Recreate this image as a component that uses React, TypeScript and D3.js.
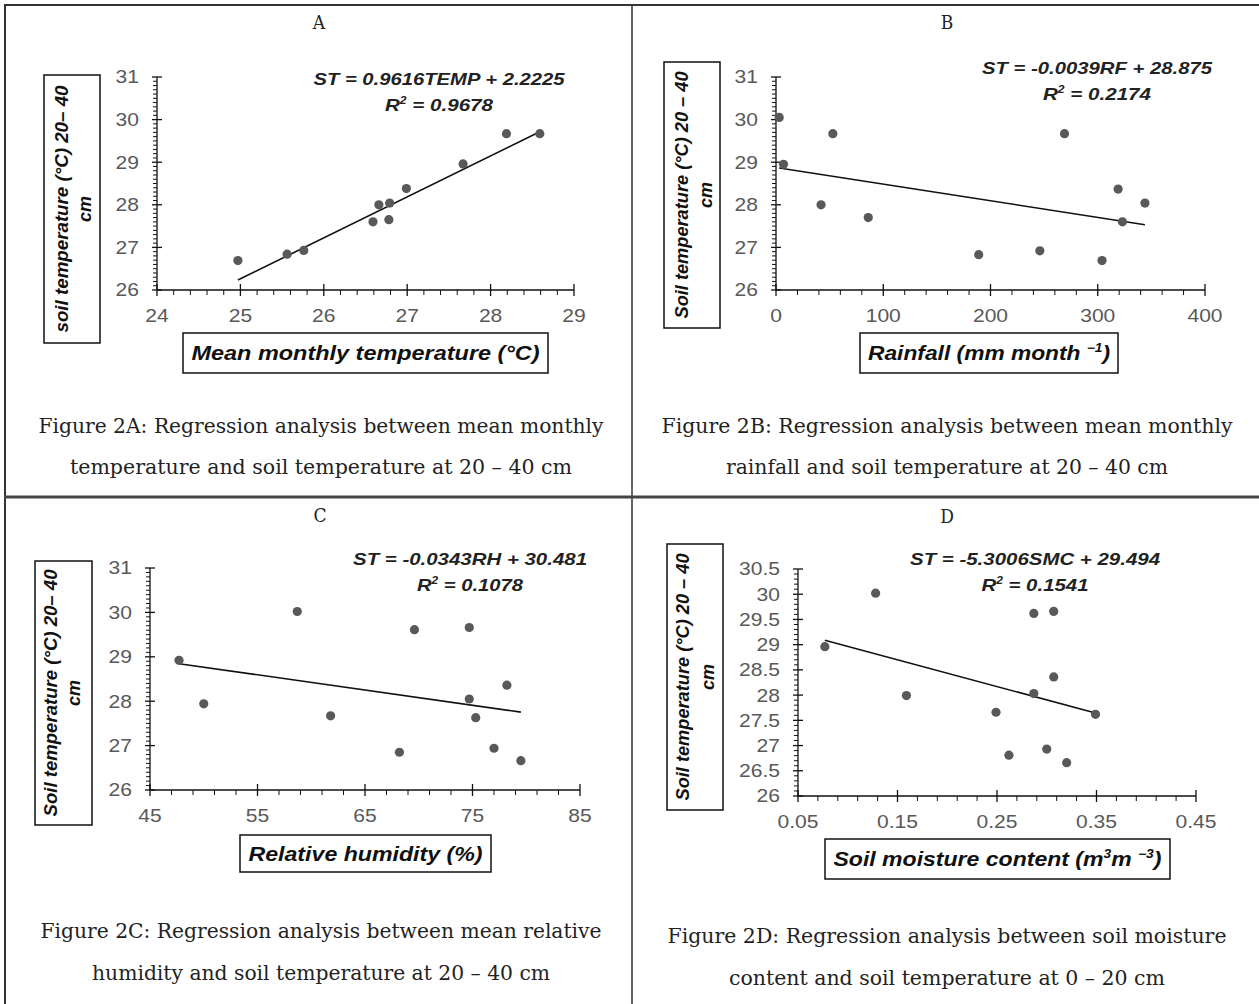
import React from 'react';
import * as d3 from 'd3';

// ---------- data ----------
const tempA = [24.97, 25.56, 25.76, 26.59, 26.66, 26.79, 26.78, 26.99, 27.67, 28.19, 28.59];
const stA = [26.69, 26.84, 26.93, 27.6, 28.0, 28.04, 27.65, 28.38, 28.96, 29.67, 29.67];

const rainB = [3, 7, 42, 53, 86, 189, 246, 269, 304, 319, 323, 344];
const stB = [30.05, 28.95, 28.0, 29.67, 27.7, 26.83, 26.92, 29.67, 26.69, 28.37, 27.6, 28.04];

const rhC = [47.7, 50.0, 58.7, 61.8, 68.2, 69.6, 74.7, 74.7, 75.3, 77.0, 78.2, 79.5];
const stC = [28.92, 27.94, 30.02, 27.67, 26.85, 29.61, 29.66, 28.05, 27.63, 26.94, 28.36, 26.66];

const smcD = [0.077, 0.128, 0.159, 0.249, 0.262, 0.287, 0.287, 0.3, 0.307, 0.307, 0.32, 0.349];
const stD = [28.96, 30.02, 27.99, 27.66, 26.81, 29.62, 28.03, 26.93, 29.66, 28.36, 26.66, 27.62];

const slopes = [0.9616, -0.0039, -0.0343, -5.3006];
const intercepts = [2.2225, 28.875, 30.481, 29.494];
const equations = [
  'ST = 0.9616TEMP + 2.2225',
  'ST = -0.0039RF + 28.875',
  'ST = -0.0343RH + 30.481',
  'ST = -5.3006SMC + 29.494',
];
const r2Values = ['0.9678', '0.2174', '0.1078', '0.1541'];
const panelLetters = ['A', 'B', 'C', 'D'];

const xTicksA = [24, 25, 26, 27, 28, 29];
const xTicksB = [0, 100, 200, 300, 400];
const xTicksC = [45, 55, 65, 75, 85];
const xTicksD = [0.05, 0.15, 0.25, 0.35, 0.45];
const xTickLabelsD = ['0.05', '0.15', '0.25', '0.35', '0.45'];
const yTicksABC = [26, 27, 28, 29, 30, 31];
const yTicksD = [26, 26.5, 27, 27.5, 28, 28.5, 29, 29.5, 30, 30.5];

const yLabelLines = [
  'soil temperature (°C) 20– 40',
  'Soil temperature (°C) 20 – 40',
  'Soil temperature (°C) 20– 40',
  'Soil temperature (°C) 20 – 40',
];

const captions = [
  ['Figure 2A: Regression analysis between mean monthly', 'temperature and soil temperature at 20 – 40 cm'],
  ['Figure 2B: Regression analysis between mean monthly', 'rainfall and soil temperature at 20 – 40 cm'],
  ['Figure 2C: Regression analysis between mean relative', 'humidity and soil temperature at 20 – 40 cm'],
  ['Figure 2D: Regression analysis between soil moisture', 'content and soil temperature at 0 – 20 cm'],
];

// ---------- layout ----------
const SANS = "'Liberation Sans', Arial, sans-serif";
const SERIF = "'DejaVu Serif Condensed', 'DejaVu Serif', serif";

type Panel = {
  xs: number[]; ys: number[];
  xDomain: [number, number]; xRange: [number, number];
  yDomain: [number, number]; yRange: [number, number];
  xTicks: number[]; xLabels: string[]; yTicks: number[]; yLabels: string[];
  xMinorStep: number; yMinorStep: number;
  letter: [number, number];
  eq: [number, number, number]; eqW: [number, number];
  yBox: [number, number, number, number]; yCols: [number, number];
  xBox: [number, number, number, number]; xTitleW: number;
  cap: [number, number, number]; capW: [number, number];
};

const panels: Panel[] = [
  {
    xs: tempA, ys: stA, xDomain: [24, 29], xRange: [157, 574], yDomain: [26, 31], yRange: [290, 77],
    xTicks: xTicksA, xLabels: xTicksA.map(String), yTicks: yTicksABC, yLabels: yTicksABC.map(String),
    xMinorStep: 0.2, yMinorStep: 0.1, letter: [319, 29], eq: [439, 85, 111], eqW: [251, 108],
    yBox: [44, 75, 56, 268], yCols: [62, 85], xBox: [183, 333, 365, 40], xTitleW: 348,
    cap: [321, 433, 474], capW: [565, 502],
  },
  {
    xs: rainB, ys: stB, xDomain: [0, 400], xRange: [776, 1205], yDomain: [26, 31], yRange: [290, 77],
    xTicks: xTicksB, xLabels: xTicksB.map(String), yTicks: yTicksABC, yLabels: yTicksABC.map(String),
    xMinorStep: 20, yMinorStep: 0.1, letter: [947, 29], eq: [1097, 74, 100], eqW: [230, 108],
    yBox: [664, 62, 56, 266], yCols: [682, 706], xBox: [860, 333, 258, 40], xTitleW: 242,
    cap: [947, 433, 474], capW: [571, 442],
  },
  {
    xs: rhC, ys: stC, xDomain: [45, 85], xRange: [150, 580], yDomain: [26, 31], yRange: [790, 568],
    xTicks: xTicksC, xLabels: xTicksC.map(String), yTicks: yTicksABC, yLabels: yTicksABC.map(String),
    xMinorStep: 2, yMinorStep: 0.1, letter: [320, 522], eq: [470, 565, 591], eqW: [234, 106],
    yBox: [35, 561, 57, 264], yCols: [51, 74], xBox: [240, 835, 251, 37], xTitleW: 234,
    cap: [321, 938, 980], capW: [561, 458],
  },
  {
    xs: smcD, ys: stD, xDomain: [0.05, 0.45], xRange: [798, 1196], yDomain: [26, 30.5], yRange: [796, 569],
    xTicks: xTicksD, xLabels: xTickLabelsD, yTicks: yTicksD, yLabels: yTicksD.map(String),
    xMinorStep: 0.02, yMinorStep: 0.1, letter: [947, 523], eq: [1035, 565, 591], eqW: [250, 107],
    yBox: [667, 544, 56, 266], yCols: [683, 708], xBox: [825, 839, 345, 40], xTitleW: 328,
    cap: [947, 943, 985], capW: [559, 436],
  },
];

function stepsBetween(d0: number, d1: number, step: number): number[] {
  const n = Math.round((d1 - d0) / step);
  return d3.range(0, n + 1).map((i) => d0 + i * step);
}

function XTitle({ i }: { i: number }) {
  if (i === 0) return <tspan>Mean monthly temperature (°C)</tspan>;
  if (i === 1)
    return (
      <>
        <tspan>Rainfall (mm month </tspan>
        <tspan dy={-8} fontSize={12}>−1</tspan>
        <tspan dy={8}>)</tspan>
      </>
    );
  if (i === 2) return <tspan>Relative humidity (%)</tspan>;
  return (
    <>
      <tspan>Soil moisture content (m</tspan>
      <tspan dy={-8} fontSize={12}>3</tspan>
      <tspan dy={8}>m </tspan>
      <tspan dy={-8} fontSize={12}>−3</tspan>
      <tspan dy={8}>)</tspan>
    </>
  );
}

const TICK_SX = 1.17;

function PanelView({ p, i }: { p: Panel; i: number }) {
  const x = d3.scaleLinear().domain(p.xDomain).range(p.xRange);
  const y = d3.scaleLinear().domain(p.yDomain).range(p.yRange);
  const x0 = p.xRange[0];
  const y0 = p.yRange[0];
  const isMajor = (v: number, majors: number[], step: number) => majors.some((m) => Math.abs(m - v) < step / 10);
  const xMinor = stepsBetween(p.xDomain[0], p.xDomain[1], p.xMinorStep).filter((v) => !isMajor(v, p.xTicks, p.xMinorStep));
  const yMinor = stepsBetween(p.yDomain[0], p.yDomain[1], p.yMinorStep).filter((v) => !isMajor(v, p.yTicks, p.yMinorStep));
  const [xmin, xmax] = d3.extent(p.xs) as [number, number];
  const trend = d3.line<number>().x((v) => x(v)).y((v) => y(slopes[i] * v + intercepts[i]))([xmin, xmax]) || '';
  const [bx, by, bw, bh] = p.yBox;
  const bcy = by + bh / 2;
  const [tx, ty, tw, th] = p.xBox;

  return (
    <g>
      {/* panel letter */}
      <text x={p.letter[0]} y={p.letter[1]} textAnchor="middle" fontFamily={SERIF} fontSize={19} fill="#222">
        {panelLetters[i]}
      </text>

      {/* y-axis title box */}
      <rect x={bx} y={by} width={bw} height={bh} fill="none" stroke="#111" strokeWidth={1.5} />
      <text
        transform={`translate(${p.yCols[0]},${bcy}) rotate(-90)`}
        textAnchor="middle" dy="0.35em" fontFamily={SANS} fontWeight={700} fontStyle="italic" fontSize={18} fill="#111"
        textLength={247} lengthAdjust="spacingAndGlyphs"
      >
        {yLabelLines[i]}
      </text>
      <text
        transform={`translate(${p.yCols[1]},${bcy}) rotate(-90)`}
        textAnchor="middle" dy="0.35em" fontFamily={SANS} fontWeight={700} fontStyle="italic" fontSize={18} fill="#111"
      >
        cm
      </text>

      {/* axes */}
      <line x1={x0} x2={x0} y1={p.yRange[0]} y2={p.yRange[1]} stroke="#111" strokeWidth={1.3} />
      <line x1={p.xRange[0]} x2={p.xRange[1]} y1={y0} y2={y0} stroke="#111" strokeWidth={1.3} />
      {p.yTicks.map((v) => (
        <line key={'ym' + v} x1={x0 - 5} x2={x0 + 5} y1={y(v)} y2={y(v)} stroke="#111" strokeWidth={1.3} />
      ))}
      {yMinor.map((v) => (
        <line key={'yn' + v} x1={x0 - 4} x2={x0} y1={y(v)} y2={y(v)} stroke="#111" strokeWidth={1} />
      ))}
      {p.xTicks.map((v) => (
        <line key={'xm' + v} x1={x(v)} x2={x(v)} y1={y0 - 6} y2={y0 + 6} stroke="#111" strokeWidth={1.3} />
      ))}
      {xMinor.map((v) => (
        <line key={'xn' + v} x1={x(v)} x2={x(v)} y1={y0} y2={y0 + 5} stroke="#111" strokeWidth={1} />
      ))}
      {p.yTicks.map((v, k) => (
        <text key={'yl' + v} transform={`translate(${x0 - 18},${y(v)}) scale(${TICK_SX},1)`} dy="0.36em" textAnchor="end"
          fontFamily={SANS} fontSize={18} fill="#595959">
          {p.yLabels[k]}
        </text>
      ))}
      {p.xTicks.map((v, k) => (
        <text key={'xl' + v} transform={`translate(${x(v)},${y0 + 32}) scale(${TICK_SX},1)`} textAnchor="middle"
          fontFamily={SANS} fontSize={18} fill="#595959">
          {p.xLabels[k]}
        </text>
      ))}

      {/* trend line and points */}
      <path d={trend} fill="none" stroke="#111" strokeWidth={1.6} />
      {p.xs.map((v, k) => (
        <circle key={'pt' + k} cx={x(v)} cy={y(p.ys[k])} r={4.6} fill="#595959" />
      ))}

      {/* equation */}
      <text x={p.eq[0]} y={p.eq[1]} textAnchor="middle" fontFamily={SANS} fontWeight={700} fontStyle="italic" fontSize={17} fill="#222"
        textLength={p.eqW[0]} lengthAdjust="spacingAndGlyphs">
        {equations[i]}
      </text>
      <text x={p.eq[0]} y={p.eq[2]} textAnchor="middle" fontFamily={SANS} fontWeight={700} fontStyle="italic" fontSize={17} fill="#222"
        textLength={p.eqW[1]} lengthAdjust="spacingAndGlyphs">
        <tspan>R</tspan>
        <tspan dy={-7} fontSize={10}>2</tspan>
        <tspan dy={7}> = {r2Values[i]}</tspan>
      </text>

      {/* x-axis title box */}
      <rect x={tx} y={ty} width={tw} height={th} fill="none" stroke="#111" strokeWidth={1.5} />
      <text x={tx + tw / 2} y={ty + th / 2 + 7} textAnchor="middle" fontFamily={SANS} fontWeight={700} fontStyle="italic" fontSize={20} fill="#111"
        textLength={p.xTitleW} lengthAdjust="spacingAndGlyphs">
        <XTitle i={i} />
      </text>

      {/* caption */}
      {captions[i].map((line, k) => (
        <text key={'cap' + k} x={p.cap[0]} y={p.cap[1 + k]} textAnchor="middle" fontFamily={SERIF} fontSize={20} fill="#222"
          textLength={p.capW[k]} lengthAdjust="spacingAndGlyphs">
          {line}
        </text>
      ))}
    </g>
  );
}

export default function App() {
  return (
    <svg width={1259} height={1004} style={{ position: 'absolute', left: 0, top: 0, background: '#fff' }}>
      <rect x={0} y={0} width={1259} height={1004} fill="#fff" />
      {/* table grid */}
      <line x1={4} x2={1259} y1={5} y2={5} stroke="#333" strokeWidth={2} />
      <line x1={5} x2={5} y1={4} y2={1004} stroke="#333" strokeWidth={2} />
      <line x1={632} x2={632} y1={4} y2={1004} stroke="#333" strokeWidth={1.5} />
      <line x1={4} x2={1259} y1={497} y2={497} stroke="#444" strokeWidth={3} />
      {panels.map((p, i) => (
        <PanelView key={i} p={p} i={i} />
      ))}
    </svg>
  );
}
